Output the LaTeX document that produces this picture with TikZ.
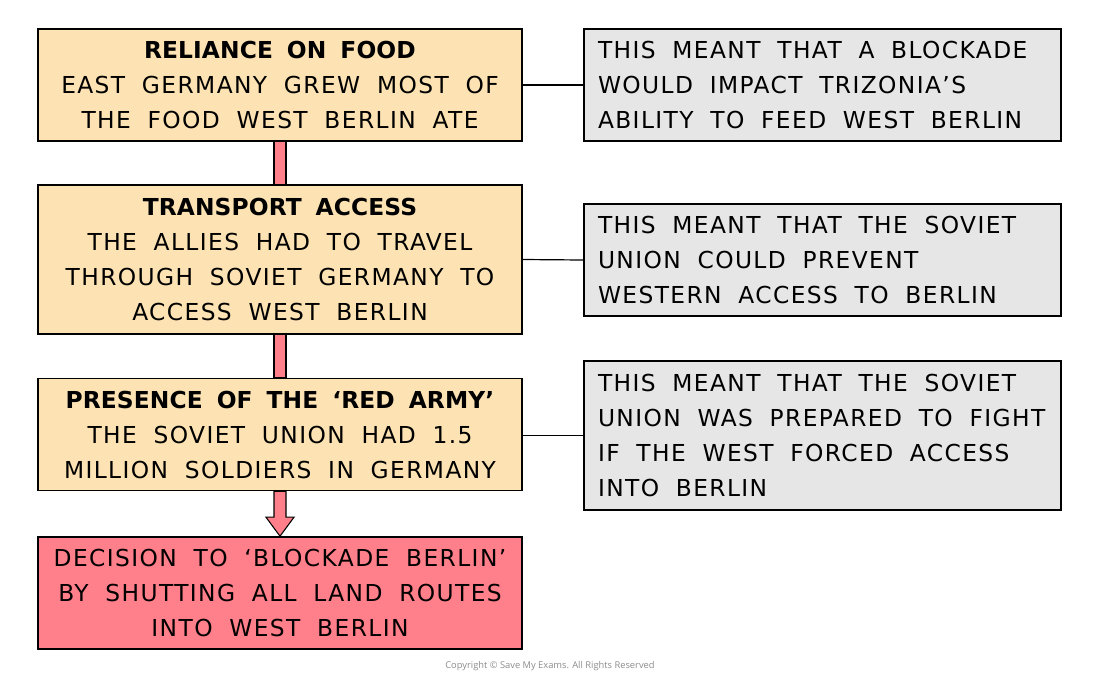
\documentclass[tikz,border=0pt]{standalone}
\usepackage{fontspec}
\setmainfont{DejaVu Sans}[LetterSpace=6,WordSpace=1.9,BoldFeatures={LetterSpace=0.5,WordSpace=1.7}]
\newfontfamily\copyfont{Open Sans}
\usetikzlibrary{calc}
\definecolor{orangefill}{HTML}{FDE3B3}
\definecolor{grayfill}{HTML}{E6E6E6}
\definecolor{redfill}{HTML}{FF7F8A}
\newcommand{\ttl}[1]{\textbf{#1}}
\newcommand{\oneline}[1]{\mbox{\spaceskip=0pt\xspaceskip=0pt #1}}
\tikzset{
  base/.style={draw=black, line width=1.2pt, inner sep=0pt, font=\fontsize{17.5}{26.25}\selectfont},
  leftbox/.style={base, fill=orangefill, minimum width=363pt, minimum height=84pt, align=center},
  decbox/.style={base, fill=redfill, minimum width=363pt, minimum height=84pt, align=center},
  graybox/.style={base, fill=grayfill, minimum width=357.75pt, minimum height=84pt, text width=336.75pt, align=left},
  link/.style={draw=black, line width=0.9pt},
  bar/.style={fill=redfill, draw=black, line width=0.8pt},
}
\begin{document}
\begin{tikzpicture}[x=0.75pt,y=-0.75pt]
\useasboundingbox (0,0) rectangle (1100,683);
% left boxes
\node[leftbox] (b1) at (280,85) {\ttl{RELIANCE ON FOOD}\\EAST GERMANY GREW MOST OF\\THE FOOD WEST BERLIN ATE};
\node[leftbox, minimum height=111.75pt] (b2) at (280,259.5) {\ttl{TRANSPORT ACCESS}\\THE ALLIES HAD TO TRAVEL\\THROUGH SOVIET GERMANY TO\\ACCESS WEST BERLIN};
\node[leftbox] (b3) at (280,434.5) {\ttl{PRESENCE OF THE ‘RED ARMY’}\\THE SOVIET UNION HAD 1.5\\MILLION SOLDIERS IN GERMANY};
\node[decbox] (b4) at (280,593) {DECISION TO ‘BLOCKADE BERLIN’\\BY SHUTTING ALL LAND ROUTES\\INTO WEST BERLIN};
% gray boxes
\node[graybox] (g1) at (822.5,85) {\oneline{THIS MEANT THAT A BLOCKADE}\\\oneline{WOULD IMPACT TRIZONIA’S}\\\oneline{ABILITY TO FEED WEST BERLIN}};
\node[graybox] (g2) at (822.5,260) {\oneline{THIS MEANT THAT THE SOVIET}\\\oneline{UNION COULD PREVENT}\\\oneline{WESTERN ACCESS TO BERLIN}};
\node[graybox, minimum height=111.75pt] (g3) at (822.5,435.5) {\oneline{THIS MEANT THAT THE SOVIET}\\\oneline{UNION WAS PREPARED TO FIGHT}\\\oneline{IF THE WEST FORCED ACCESS}\\\oneline{INTO BERLIN}};
% links
\draw[link] (b1.east) -- (g1.west);
\draw[link] (b2.east) -- (g2.west);
\draw[link] (b3.east |- g3.west) -- (g3.west);
% bars
\path[bar] ($(b1.south)+(-6,0)$) rectangle ($(b2.north)+(6,0)$);
\path[bar] ($(b2.south)+(-6,0)$) rectangle ($(b3.north)+(6,0)$);
\path[bar] ($(b3.south)+(-6,0)$) -- ($(b3.south)+(6,0)$) -- ($(b4.north)+(6,-19)$) -- ($(b4.north)+(14,-19)$) -- (b4.north) -- ($(b4.north)+(-14,-19)$) -- ($(b4.north)+(-6,-19)$) -- cycle;
% copyright
\node[text=black!45, font=\copyfont\fontsize{7}{8}\selectfont] (cr) at (550,666) {Copyright © Save My Exams. All Rights Reserved};
\end{tikzpicture}
\end{document}
